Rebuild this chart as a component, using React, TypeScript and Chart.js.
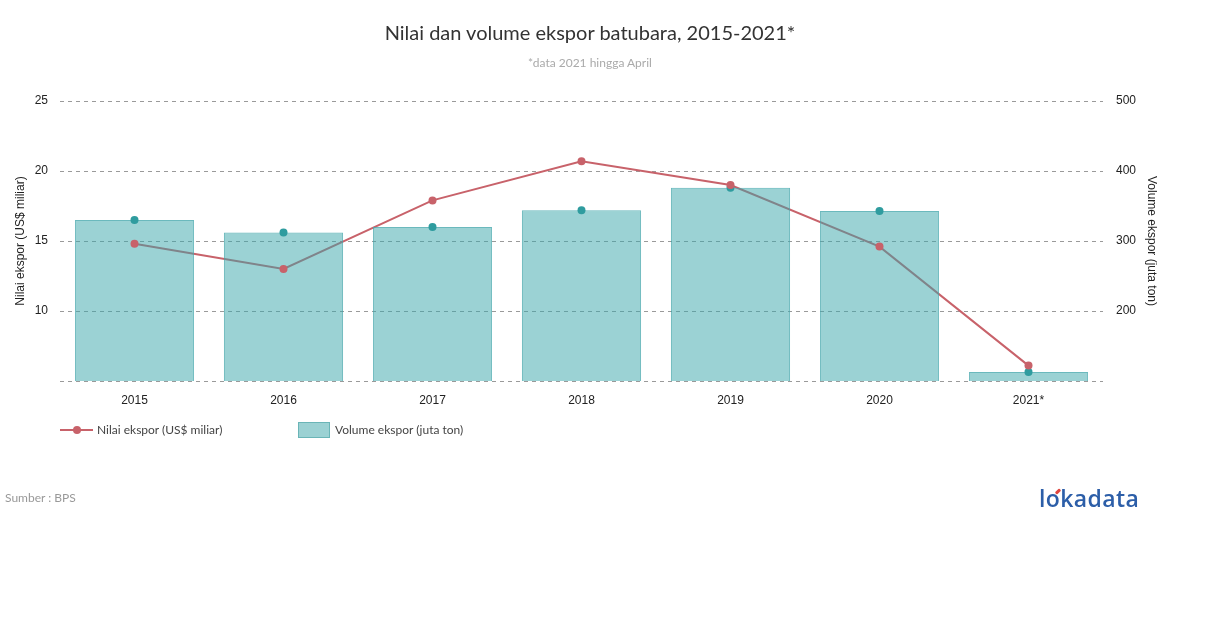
import React, { useEffect, useRef } from "react";
import { Chart, registerables } from "chart.js";

Chart.register(...registerables);

const years = ["2015", "2016", "2017", "2018", "2019", "2020", "2021*"];
const nilaiEkspor = [14.8, 13.0, 17.9, 20.7, 19.0, 14.6, 6.1];
const volumeEkspor = [330, 312, 320, 344, 376, 343, 113];
const leftTicks = [5, 10, 15, 20, 25];
const rightTicks = [100, 200, 300, 400, 500];

const RED = "#c8626a";
const TEAL = "#2f9c9f";
const BAR_FILL = "rgba(56,166,170,0.5)";
const BAR_BORDER = "rgba(70,168,172,0.8)";
const AXIS_FONT = "'Liberation Sans', Arial, sans-serif";

export default function App() {
  const ref = useRef<HTMLCanvasElement | null>(null);

  useEffect(() => {
    if (!ref.current) return;
    const chart = new Chart(ref.current, {
      type: "bar",
      data: {
        labels: years,
        datasets: [
          {
            type: "line",
            label: "Nilai ekspor (US$ miliar)",
            data: nilaiEkspor,
            yAxisID: "y",
            borderColor: RED,
            borderWidth: 2,
            pointRadius: 0,
            tension: 0,
            order: 5,
          } as any,
          {
            type: "bar",
            label: "Volume ekspor (juta ton)",
            data: volumeEkspor,
            yAxisID: "y1",
            backgroundColor: BAR_FILL,
            borderColor: BAR_BORDER,
            borderWidth: 1,
            borderSkipped: false,
            barPercentage: 0.8,
            categoryPercentage: 1,
            order: 4,
          },
          {
            type: "line",
            label: "volume points",
            data: volumeEkspor,
            yAxisID: "y1",
            showLine: false,
            pointRadius: 4,
            pointBackgroundColor: TEAL,
            pointBorderColor: TEAL,
            pointBorderWidth: 0,
            order: 2,
          } as any,
          {
            type: "line",
            label: "nilai points",
            data: nilaiEkspor,
            yAxisID: "y",
            showLine: false,
            pointRadius: 4,
            pointBackgroundColor: RED,
            pointBorderColor: RED,
            pointBorderWidth: 0,
            order: 1,
          } as any,
        ],
      },
      options: {
        animation: false,
        responsive: false,
        maintainAspectRatio: false,
        layout: { padding: { top: 101, bottom: 217, left: 0, right: 40 } },
        plugins: {
          legend: { display: false },
          tooltip: { enabled: false },
          title: { display: false },
        },
        scales: {
          x: {
            grid: { display: false, drawTicks: false },
            border: { display: false },
            ticks: {
              color: "#222",
              font: { family: AXIS_FONT, size: 12 },
              padding: 12,
            },
            afterFit: (s: any) => {
              s.height = 30;
            },
          },
          y: {
            position: "left",
            min: 5,
            max: 25,
            afterBuildTicks: (s: any) => {
              s.ticks = leftTicks.map((v) => ({ value: v }));
            },
            ticks: {
              color: "#222",
              font: { family: AXIS_FONT, size: 12 },
              padding: 12,
              callback: (v: any) => (v === 5 ? "" : String(v)),
            },
            grid: {
              color: "#9a9a9a",
              drawTicks: false,
              lineWidth: 1,
            },
            border: { display: false, dash: [4, 4] },
            title: {
              display: true,
              text: "Nilai ekspor (US$ miliar)",
              color: "#222",
              font: { family: AXIS_FONT, size: 12 },
              padding: { top: 13, bottom: 0 },
            },
            afterFit: (s: any) => {
              s.width = 60;
            },
          },
          y1: {
            position: "right",
            min: 100,
            max: 500,
            afterBuildTicks: (s: any) => {
              s.ticks = rightTicks.map((v) => ({ value: v }));
            },
            ticks: {
              color: "#222",
              font: { family: AXIS_FONT, size: 12 },
              padding: 13,
              callback: (v: any) => (v === 100 ? "" : String(v)),
            },
            grid: { display: false, drawTicks: false },
            border: { display: false },
            title: {
              display: true,
              text: "Volume ekspor (juta ton)",
              color: "#222",
              font: { family: AXIS_FONT, size: 12 },
              padding: { top: 11, bottom: 0 },
            },
            afterFit: (s: any) => {
              s.width = 67;
            },
          },
        },
      },
    });
    return () => chart.destroy();
  }, []);

  const lato = "Lato, 'Open Sans', sans-serif";

  return (
    <div
      style={{
        position: "absolute",
        left: 0,
        top: 0,
        width: 1210,
        height: 628,
        background: "#fff",
        fontFamily: lato,
        overflow: "hidden",
      }}
    >
      <canvas
        ref={ref}
        width={1210}
        height={628}
        style={{ position: "absolute", left: 0, top: 0, width: 1210, height: 628 }}
      />
      <div
        style={{
          position: "absolute",
          left: 0,
          width: 1180,
          top: 19,
          textAlign: "center",
          fontSize: 20,
          color: "#333",
          lineHeight: "26px",
        }}
      >
        Nilai dan volume ekspor batubara, 2015-2021*
      </div>
      <div
        style={{
          position: "absolute",
          left: 0,
          width: 1180,
          top: 55,
          textAlign: "center",
          fontSize: 12,
          color: "#aaa",
          lineHeight: "15px",
        }}
      >
        *data 2021 hingga April
      </div>
      {/* legend */}
      <div style={{ position: "absolute", left: 60, top: 422, height: 16, width: 34 }}>
        <div style={{ position: "absolute", left: 0, top: 7, width: 33, height: 2, background: RED }} />
        <div
          style={{
            position: "absolute",
            left: 13,
            top: 4,
            width: 8,
            height: 8,
            borderRadius: 4,
            background: RED,
          }}
        />
      </div>
      <div
        style={{
          position: "absolute",
          left: 97,
          top: 422,
          fontSize: 12,
          color: "#444",
          lineHeight: "16px",
        }}
      >
        Nilai ekspor (US$ miliar)
      </div>
      <div
        style={{
          position: "absolute",
          left: 298,
          top: 422,
          width: 30,
          height: 14,
          background: "#9bd1d3",
          border: "1px solid #6ab5b7",
        }}
      />
      <div
        style={{
          position: "absolute",
          left: 335,
          top: 422,
          fontSize: 12,
          color: "#444",
          lineHeight: "16px",
        }}
      >
        Volume ekspor (juta ton)
      </div>
      <div
        style={{
          position: "absolute",
          left: 5,
          top: 490,
          fontSize: 12,
          color: "#999",
          lineHeight: "16px",
        }}
      >
        Sumber : BPS
      </div>
      <div
        style={{
          position: "absolute",
          left: 1039,
          top: 484,
          fontSize: 23,
          fontWeight: 600,
          color: "#2c5ea8",
          lineHeight: "28px",
          fontFamily: "'Open Sans', Lato, sans-serif",
          letterSpacing: 0.4,
        }}
      >
        lokadata
      </div>
      <div
        style={{
          position: "absolute",
          left: 1055,
          top: 490,
          width: 6,
          height: 3,
          background: "#e0463f",
          transform: "rotate(-45deg)",
          borderRadius: 1,
        }}
      />
    </div>
  );
}
